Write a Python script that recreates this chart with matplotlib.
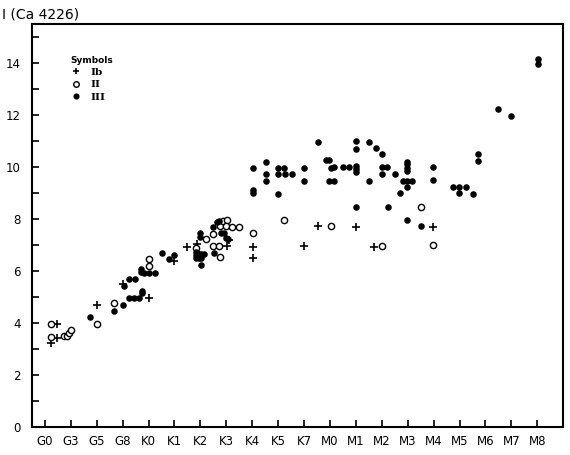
import matplotlib
matplotlib.use("Agg")
import matplotlib.pyplot as plt
from matplotlib.lines import Line2D

# spectral type axis (categories at integer positions 0..19)
types = ["G0", "G3", "G5", "G8", "K0", "K1", "K2", "K3", "K4", "K5",
         "K7", "M0", "M1", "M2", "M3", "M4", "M5", "M6", "M7", "M8"]

# luminosity class Ib (+)
ib_x = [0.47, 0.22, 0.47, 2.0, 3.0, 4.03, 5.0, 5.49, 5.88, 5.95,
        7.02, 7.1, 8.02, 8.02, 10.0, 10.53, 12.0, 12.7, 14.99]
ib_y = [3.97, 3.22, 3.43, 4.70, 5.50, 4.96, 6.40, 6.94, 7.03, 6.62,
        6.97, 7.19, 6.94, 6.49, 6.97, 7.74, 7.68, 6.93, 7.68]

# luminosity class II (open circles)
ii_x = [0.22, 0.22, 0.73, 0.86, 0.94, 0.99, 2.0, 2.66, 4.0, 4.0,
        5.83, 6.22, 6.47, 6.47, 6.73, 6.76, 6.76, 6.88, 7.02, 6.99,
        7.21, 7.5, 8.02, 9.23, 11.03, 13.0, 14.5, 14.99]
ii_y = [3.97, 3.46, 3.50, 3.50, 3.60, 3.73, 3.97, 4.76, 6.19, 6.46,
        6.87, 7.22, 7.41, 6.97, 6.97, 6.53, 7.73, 7.94, 7.96, 7.73,
        7.70, 7.70, 7.46, 7.96, 7.74, 6.96, 8.47, 6.99]

# luminosity class III (filled dots)
iii_x = [1.73, 2.66, 3.0, 3.26, 3.45, 3.64, 3.73, 3.73, 3.06, 3.26,
         3.49, 3.69, 3.69, 3.82, 4.03, 4.26, 4.52, 4.8, 4.98,
         5.82, 5.82, 5.82, 5.93, 6.04, 6.15, 5.93, 6.02, 6.02, 5.98, 5.98,
         6.47, 6.63, 6.73, 6.54, 6.78, 6.92, 6.98, 7.05,
         8.02, 8.02, 8.02, 8.52, 8.52, 8.52, 9.01, 9.23, 9.01, 9.27, 9.53, 9.01,
         10.01, 10.01, 10.53, 10.85, 10.98, 11.04, 11.17, 10.98, 11.17,
         11.49, 11.75, 12.0, 12.0, 12.0, 12.0, 12.0, 12.52, 12.52, 12.78,
         13.01, 13.01, 13.19, 13.01, 13.51, 13.99, 13.99, 13.99, 13.99,
         13.83, 13.99, 14.18, 13.99, 13.71, 12.01, 13.26, 13.99, 14.52,
         14.99, 14.99, 15.73, 15.98, 16.24, 15.98, 16.51, 16.73, 16.73,
         17.5, 17.99, 19.01, 19.01]
iii_y = [4.22, 4.47, 4.70, 4.95, 4.95, 4.95, 5.14, 5.24, 5.42, 5.68,
         5.68, 5.96, 6.09, 5.94, 5.94, 5.94, 6.70, 6.46, 6.62,
         6.74, 6.62, 6.49, 6.64, 6.64, 6.64, 6.49, 6.50, 6.23, 7.45, 7.32,
         7.70, 7.90, 7.94, 6.70, 7.47, 7.47, 7.28, 7.23,
         9.97, 9.12, 9.00, 10.20, 9.72, 9.46, 9.97, 9.97, 9.72, 9.72, 9.72, 8.97,
         9.97, 9.47, 10.97, 10.27, 10.27, 9.98, 10.01, 9.47, 9.47,
         10.01, 10.01, 10.04, 9.92, 9.81, 11.01, 10.69, 9.47, 10.97, 10.72,
         10.50, 10.01, 10.01, 9.73, 9.73, 10.20, 10.10, 9.98, 9.86,
         9.47, 9.47, 9.47, 9.24, 8.99, 8.47, 8.47, 7.98, 7.73,
         10.01, 9.50, 9.22, 9.22, 9.22, 8.99, 8.96, 10.50, 10.23,
         12.24, 11.97, 14.14, 13.98]

fig = plt.figure(figsize=(5.7, 4.55), dpi=100)
ax = fig.add_axes([0.056, 0.0615, 0.932, 0.8855])

ax.plot(ib_x, ib_y, "+", color="black", ms=6, mew=1.2, ls="none")
ax.plot(ii_x, ii_y, "o", mfc="white", mec="black", ms=4.5, mew=1.0, ls="none")
ax.plot(iii_x, iii_y, "o", color="black", ms=3.7, ls="none")

ax.set_xlim(-0.5, 20.0)
ax.set_ylim(0, 15.5)
ax.set_xticks(range(len(types)))
ax.set_xticklabels(types)
ax.set_yticks(range(0, 16))
ax.set_yticklabels([str(v) if v % 2 == 0 and v <= 14 else "" for v in range(0, 16)])
ax.tick_params(direction="in", length=5, width=1.2, labelsize=8.5, pad=6)
ax.tick_params(axis="y", pad=8)
ax.tick_params(top=False, right=False)
for s in ax.spines.values():
    s.set_linewidth(1.5)

fig.text(0.004, 0.953, "I (Ca 4226)", fontsize=10, ha="left", va="bottom")

handles = [
    Line2D([], [], marker="+", color="black", ls="none", ms=5, mew=1.2),
    Line2D([], [], marker="o", mfc="white", mec="black", ls="none", ms=4, mew=1.0),
    Line2D([], [], marker="o", color="black", ls="none", ms=3.4),
]
leg = ax.legend(handles, ["Ib", "II", "III"], title="Symbols", loc="upper left",
                bbox_to_anchor=(0.055, 0.945), frameon=False, fontsize=7.5,
                title_fontsize=6.5, handlelength=1.0, handletextpad=0.9,
                labelspacing=0.3, alignment="left")
for t in leg.get_texts():
    t.set_family("DejaVu Serif")
    t.set_fontweight("bold")
leg.get_title().set_fontweight("bold")

fig.savefig("out.png", dpi=100)
